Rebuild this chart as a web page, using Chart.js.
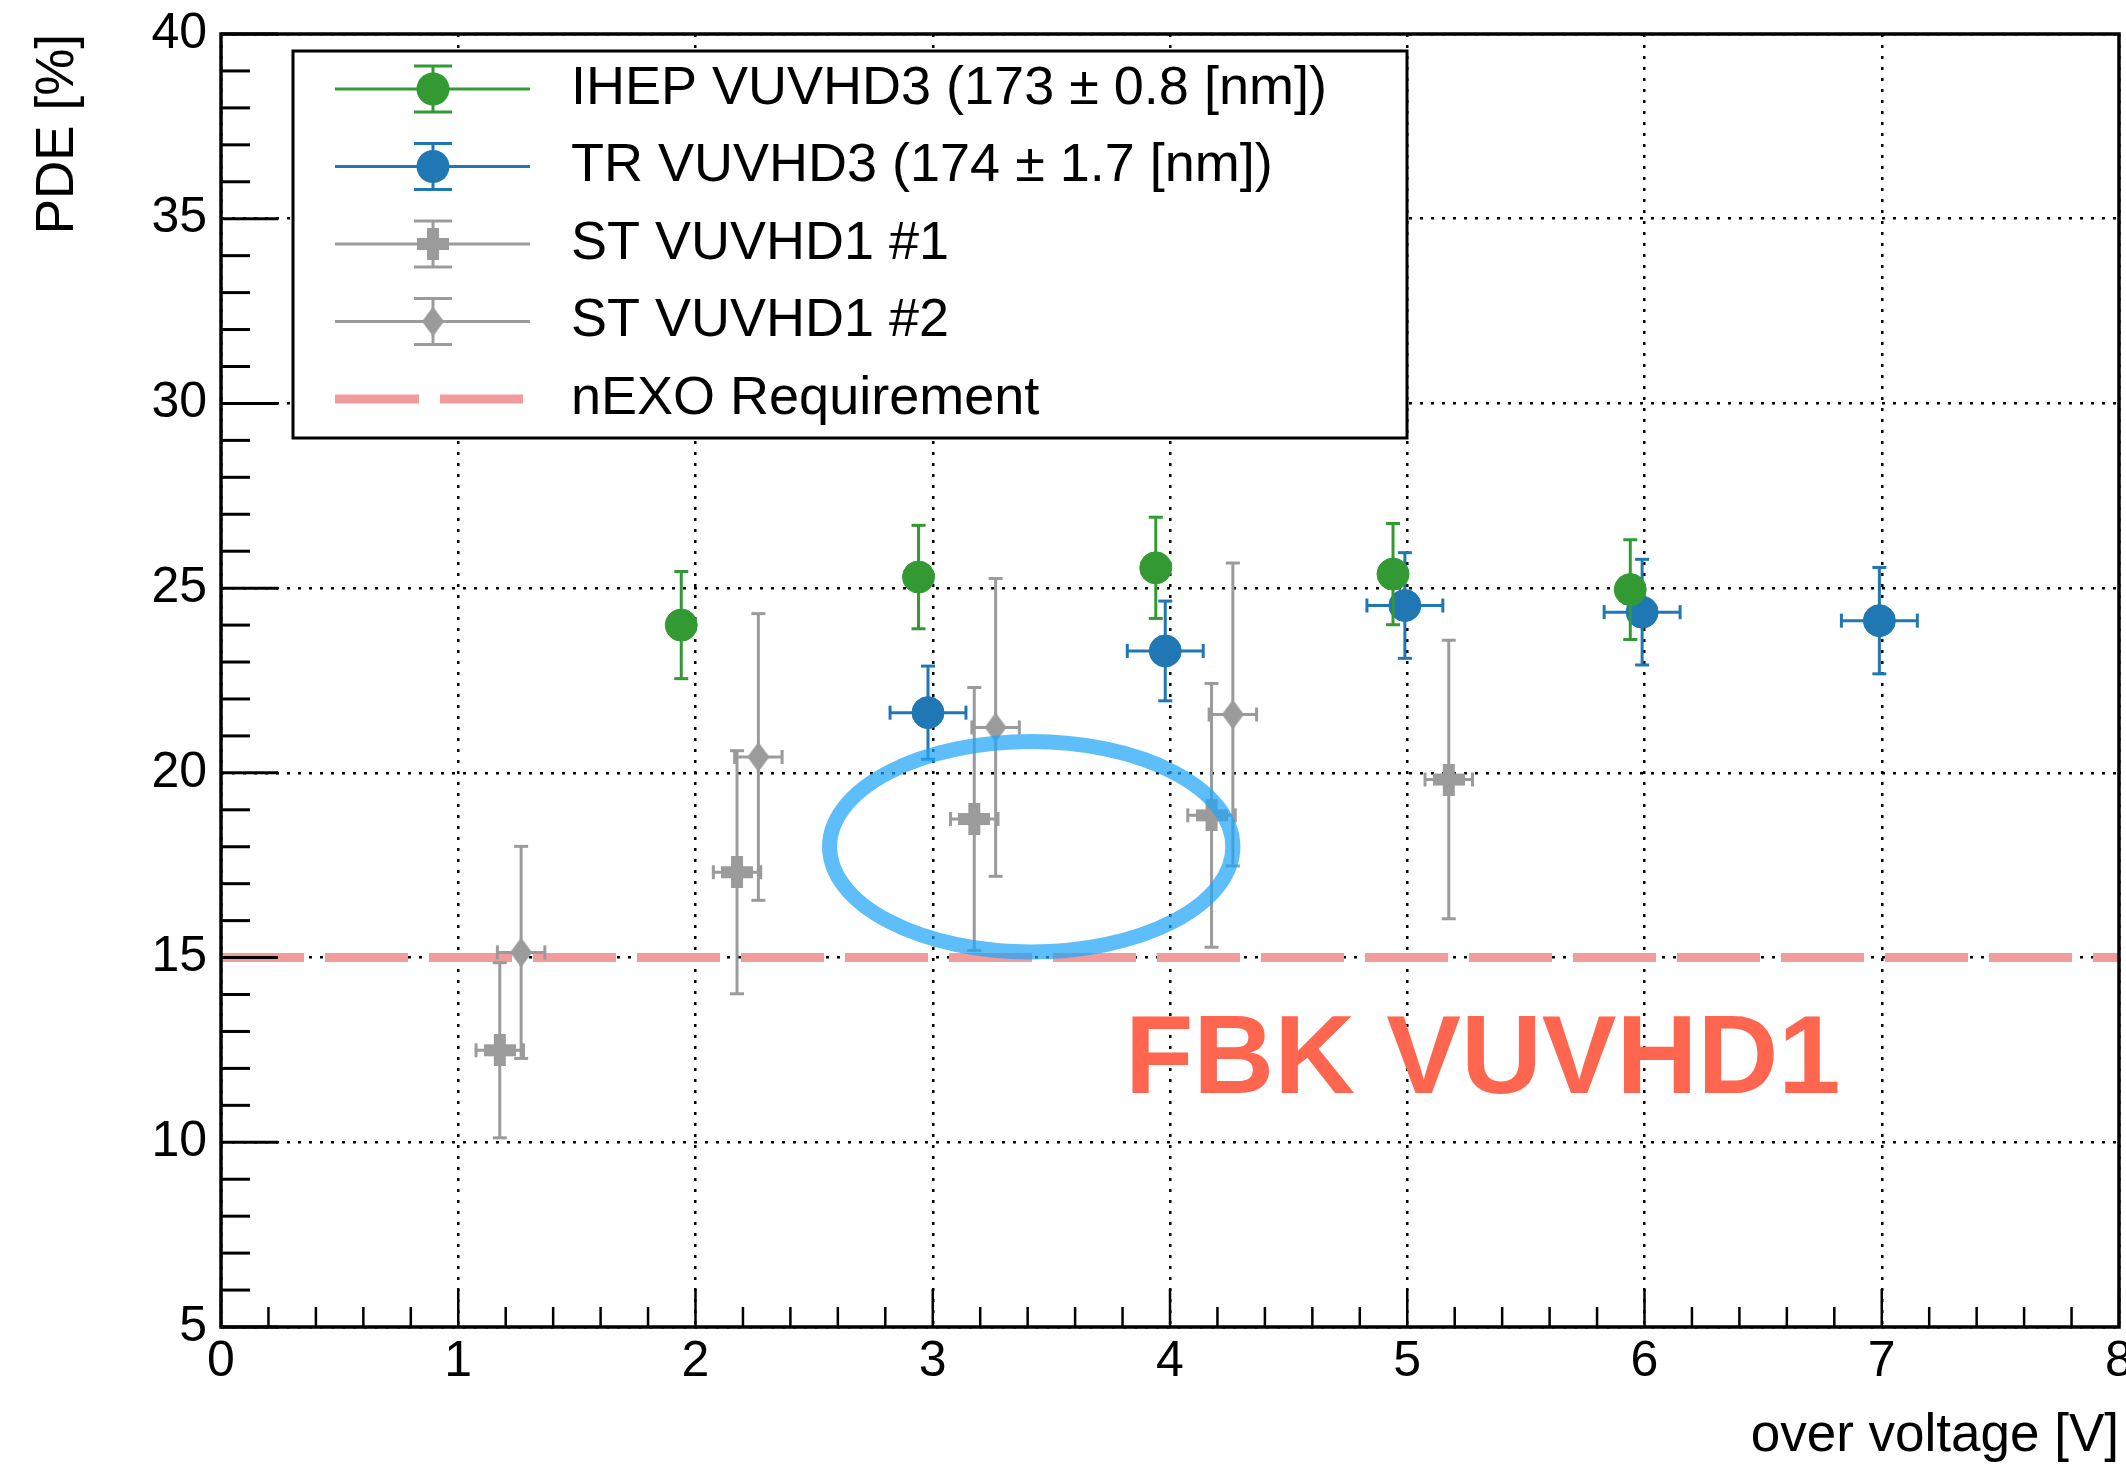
<!DOCTYPE html>
<html>
<head>
<meta charset="utf-8">
<script src="https://cdn.jsdelivr.net/npm/chart.js@4.4.1/dist/chart.umd.min.js"></script>
<style>
html, body { margin: 0; padding: 0; background: #fff; overflow: hidden; }
#pdeChart { display: block; }
</style>
</head>
<body>
<canvas id="pdeChart" width="2126" height="1468"></canvas>
<script>
// axis ticks
var xTicks = [0, 1, 2, 3, 4, 5, 6, 7, 8];
var yTicks = [5, 10, 15, 20, 25, 30, 35, 40];

// IHEP VUVHD3
var ihepX = [1.94, 2.94, 3.94, 4.94, 5.94];
var ihepY = [24.0, 25.3, 25.55, 25.38, 24.96];
var ihepYErr = [1.45, 1.4, 1.37, 1.37, 1.35];

// TR VUVHD3
var trX = [2.98, 3.98, 4.99, 5.99, 6.99];
var trY = [21.63, 23.3, 24.53, 24.35, 24.12];
var trYErr = [1.26, 1.35, 1.43, 1.43, 1.44];
var trXErr = [0.16, 0.16, 0.16, 0.16, 0.16];

// ST VUVHD1 #1
var st1X = [1.175, 2.175, 3.175, 4.175, 5.175];
var st1Y = [12.49, 17.31, 18.75, 18.85, 19.82];
var st1YErr = [2.37, 3.29, 3.56, 3.57, 3.77];
var st1XErr = [0.1, 0.1, 0.1, 0.1, 0.1];

// ST VUVHD1 #2
var st2X = [1.265, 2.265, 3.265, 4.265];
var st2Y = [15.14, 20.43, 21.23, 21.58];
var st2YErr = [2.87, 3.88, 4.03, 4.1];
var st2XErr = [0.1, 0.1, 0.1, 0.1];

// nEXO requirement
var nexoReq = 15;

var FONT = "'Liberation Sans', Arial, Helvetica, sans-serif";
var GREEN = '#339a33', BLUE = '#1f77b4', GRAY = '#9b9b9b', PINK = '#f09c9c';

function pts(xs, ys) {
    return xs.map(function(x, i) { return {x: x, y: ys[i]}; });
}

// ROOT style full cross marker
function crossImg() {
    var c = document.createElement('canvas');
    c.width = 32; c.height = 32;
    var g = c.getContext('2d');
    g.fillStyle = GRAY;
    g.fillRect(10, 0, 12, 32);
    g.fillRect(0, 10, 32, 12);
    return c;
}
// narrow diamond marker
function diamondImg() {
    var c = document.createElement('canvas');
    c.width = 22; c.height = 30;
    var g = c.getContext('2d');
    g.fillStyle = GRAY;
    g.beginPath();
    g.moveTo(11, 0); g.lineTo(22, 15); g.lineTo(11, 30); g.lineTo(0, 15);
    g.closePath(); g.fill();
    return c;
}
var CROSS = crossImg(), DIAMOND = diamondImg();

function line(ctx, x1, y1, x2, y2) {
    ctx.beginPath(); ctx.moveTo(x1, y1); ctx.lineTo(x2, y2); ctx.stroke();
}

var errorBars = {
    id: 'errorBars',
    beforeDatasetDraw: function(chart, args) {
        var ds = chart.data.datasets[args.index];
        if (!ds.yErr) return;
        var xs = chart.scales.x, ys = chart.scales.y, ctx = chart.ctx;
        ctx.save();
        ctx.strokeStyle = ds.errColor;
        ctx.lineWidth = 3;
        var cap = 7;
        ds.data.forEach(function(p, i) {
            var px = xs.getPixelForValue(p.x), py = ys.getPixelForValue(p.y);
            var y1 = ys.getPixelForValue(p.y + ds.yErr[i]);
            var y2 = ys.getPixelForValue(p.y - ds.yErr[i]);
            line(ctx, px, y1, px, y2);
            line(ctx, px - cap, y1, px + cap, y1);
            line(ctx, px - cap, y2, px + cap, y2);
            if (ds.xErr) {
                var x1 = xs.getPixelForValue(p.x - ds.xErr[i]);
                var x2 = xs.getPixelForValue(p.x + ds.xErr[i]);
                line(ctx, x1, py, x2, py);
                line(ctx, x1, py - cap, x1, py + cap);
                line(ctx, x2, py - cap, x2, py + cap);
            }
        });
        ctx.restore();
    }
};

// blue ellipse and label, placed in data units
var ringX = 3.415, ringY = 18.0, ringRX = 0.85, ringRY = 2.85;
var labelX = 3.81, labelY = 11.33;

var extras = {
    id: 'extras',
    afterDatasetsDraw: function(chart) {
        var xs = chart.scales.x, ys = chart.scales.y, ctx = chart.ctx;
        var cx = xs.getPixelForValue(ringX), cy = ys.getPixelForValue(ringY);
        var rx = xs.getPixelForValue(ringX + ringRX) - cx;
        var ry = cy - ys.getPixelForValue(ringY + ringRY);
        ctx.save();
        ctx.strokeStyle = 'rgba(30,165,248,0.72)';
        ctx.lineWidth = 15;
        ctx.beginPath();
        ctx.ellipse(cx, cy, rx, ry, 0, 0, Math.PI * 2);
        ctx.stroke();

        ctx.fillStyle = '#ff6650';
        ctx.font = 'bold 112px ' + FONT;
        ctx.textAlign = 'left';
        ctx.textBaseline = 'alphabetic';
        ctx.fillText('FBK VUVHD1', xs.getPixelForValue(labelX), ys.getPixelForValue(labelY));
        ctx.restore();
    },
    afterDraw: function(chart) {
        var xs = chart.scales.x, ys = chart.scales.y, ctx = chart.ctx;
        var ca = chart.chartArea;
        ctx.save();
        ctx.strokeStyle = '#000';
        // inner ticks
        ctx.lineWidth = 3;
        for (var v = 5; v <= 40; v++) {
            var py = ys.getPixelForValue(v);
            line(ctx, ca.left, py, ca.left + (v % 5 === 0 ? 57 : 29), py);
        }
        ctx.lineWidth = 2.5;
        for (var i = 0; i <= 40; i++) {
            var px = xs.getPixelForValue(i * 0.2);
            line(ctx, px, ca.bottom, px, ca.bottom - (i % 5 === 0 ? 38 : 20));
        }
        // frame
        ctx.lineWidth = 3.5;
        ctx.strokeRect(ca.left, ca.top, ca.right - ca.left, ca.bottom - ca.top);

        // legend
        var L = ca.left + 72, T = ca.top + 17, W = 1114, H = 387;
        ctx.fillStyle = '#fff';
        ctx.fillRect(L, T, W, H);
        ctx.lineWidth = 3;
        ctx.strokeRect(L, T, W, H);
        var items = [
            {text: 'IHEP VUVHD3 (173 \u00b1 0.8 [nm])', color: GREEN, mark: 'circle'},
            {text: 'TR VUVHD3 (174 \u00b1 1.7 [nm])', color: BLUE, mark: 'circle'},
            {text: 'ST VUVHD1 #1', color: GRAY, mark: CROSS},
            {text: 'ST VUVHD1 #2', color: GRAY, mark: DIAMOND},
            {text: 'nEXO Requirement', color: PINK, mark: 'dash'}
        ];
        ctx.font = '54px ' + FONT;
        ctx.textBaseline = 'middle';
        ctx.textAlign = 'left';
        items.forEach(function(it, k) {
            var y = T + 38 + k * 77.5;
            var mx = L + 140;
            if (it.mark === 'dash') {
                ctx.strokeStyle = it.color;
                ctx.lineWidth = 9;
                ctx.setLineDash([84, 21]);
                line(ctx, L + 42, y, L + 230, y);
                ctx.setLineDash([]);
            } else {
                ctx.strokeStyle = it.color;
                ctx.lineWidth = 3;
                line(ctx, L + 42, y, L + 237, y);
                line(ctx, mx, y - 23, mx, y + 23);
                line(ctx, mx - 19, y - 23, mx + 19, y - 23);
                line(ctx, mx - 19, y + 23, mx + 19, y + 23);
                if (it.mark === 'circle') {
                    ctx.fillStyle = it.color;
                    ctx.beginPath();
                    ctx.arc(mx, y, 16.5, 0, Math.PI * 2);
                    ctx.fill();
                } else {
                    ctx.drawImage(it.mark, mx - it.mark.width / 2, y - it.mark.height / 2);
                }
            }
            ctx.fillStyle = '#000';
            ctx.fillText(it.text, L + 278, y);
        });
        ctx.restore();
    }
};

function noPadding() { return {left: 0, top: 0, right: 0, bottom: 0}; }

var ctx = document.getElementById('pdeChart').getContext('2d');
var pdeChart = new Chart(ctx, {
    type: 'scatter',
    data: {
        datasets: [
            {
                label: 'IHEP VUVHD3',
                data: pts(ihepX, ihepY),
                yErr: ihepYErr,
                errColor: GREEN,
                backgroundColor: GREEN,
                borderColor: GREEN,
                pointRadius: 16,
                pointBorderWidth: 1
            },
            {
                label: 'TR VUVHD3',
                data: pts(trX, trY),
                yErr: trYErr,
                xErr: trXErr,
                errColor: BLUE,
                backgroundColor: BLUE,
                borderColor: BLUE,
                pointRadius: 16,
                pointBorderWidth: 1
            },
            {
                label: 'ST VUVHD1 #1',
                data: pts(st1X, st1Y),
                yErr: st1YErr,
                xErr: st1XErr,
                errColor: GRAY,
                pointStyle: CROSS
            },
            {
                label: 'ST VUVHD1 #2',
                data: pts(st2X, st2Y),
                yErr: st2YErr,
                xErr: st2XErr,
                errColor: GRAY,
                pointStyle: DIAMOND
            },
            {
                type: 'line',
                label: 'nEXO Requirement',
                data: [{x: xTicks[0], y: nexoReq}, {x: xTicks[xTicks.length - 1], y: nexoReq}],
                borderColor: PINK,
                borderWidth: 9,
                borderDash: [83, 21],
                borderCapStyle: 'butt',
                pointRadius: 0,
                fill: false
            }
        ]
    },
    options: {
        responsive: false,
        devicePixelRatio: 1,
        animation: false,
        events: [],
        layout: { autoPadding: false, padding: { top: 34, right: 7, left: 0, bottom: 0 } },
        plugins: {
            legend: { display: false },
            tooltip: { enabled: false }
        },
        scales: {
            x: {
                type: 'linear',
                min: xTicks[0],
                max: xTicks[xTicks.length - 1],
                afterBuildTicks: function(s) { s.ticks = xTicks.map(function(v) { return {value: v}; }); },
                afterFit: function(s) {
                    s.height = 141; s.paddingLeft = 0; s.paddingRight = 0;
                    s.getPadding = noPadding;
                },
                grid: { color: '#000', lineWidth: 2.5, drawTicks: false },
                border: { display: false, dash: [3, 8] },
                ticks: { color: '#000', font: { family: FONT, size: 50 }, padding: 5, maxRotation: 0, autoSkip: false },
                title: {
                    display: true, text: 'over voltage [V]', align: 'end', color: '#000',
                    font: { family: FONT, size: 53 }, padding: 0
                }
            },
            y: {
                type: 'linear',
                min: yTicks[0],
                max: yTicks[yTicks.length - 1],
                afterBuildTicks: function(s) { s.ticks = yTicks.map(function(v) { return {value: v}; }); },
                afterFit: function(s) {
                    s.width = 221; s.paddingTop = 0; s.paddingBottom = 0;
                    s.getPadding = noPadding;
                },
                grid: { color: '#000', lineWidth: 2.5, drawTicks: false },
                border: { display: false, dash: [3, 8] },
                ticks: { color: '#000', font: { family: FONT, size: 50 }, padding: 14, autoSkip: false },
                title: {
                    display: true, text: 'PDE [%]', align: 'end', color: '#000',
                    font: { family: FONT, size: 53 }, padding: { top: 27, bottom: 0 }
                }
            }
        }
    },
    plugins: [errorBars, extras]
});
</script>
</body>
</html>
